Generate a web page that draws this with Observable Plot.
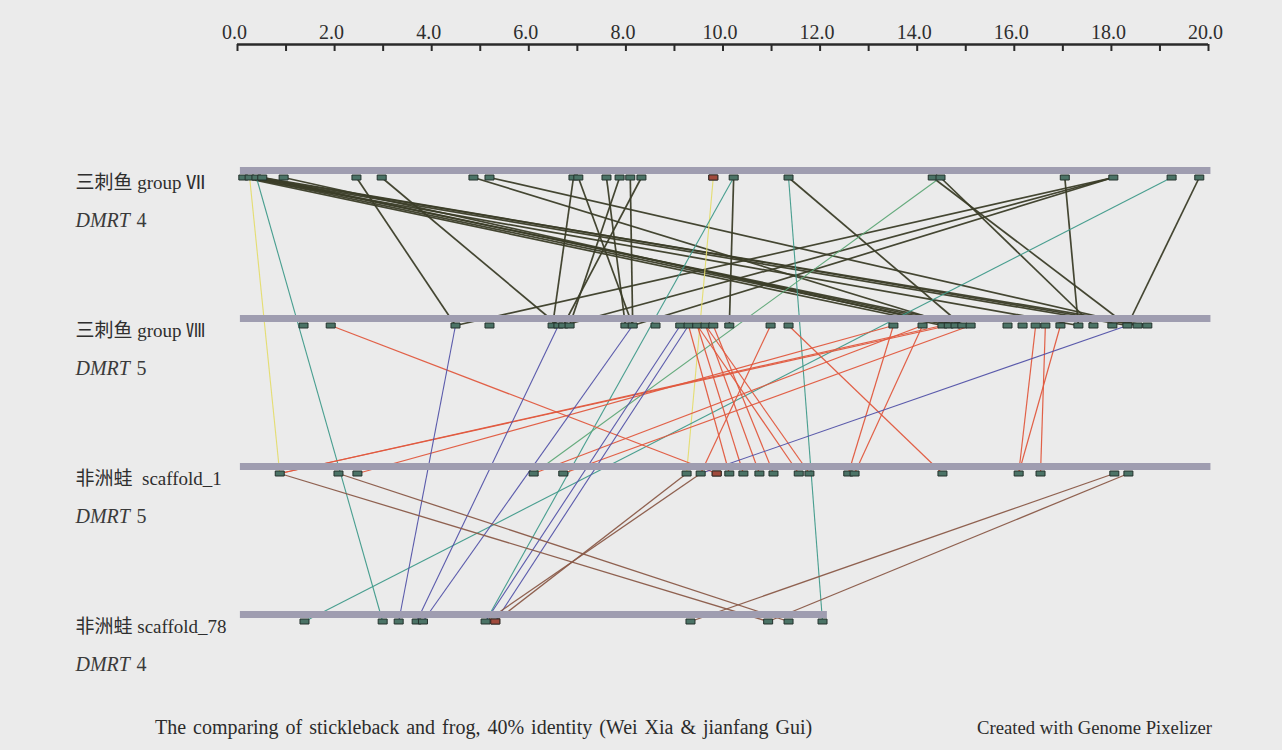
<!DOCTYPE html>
<html><head><meta charset="utf-8">
<script src="https://cdn.jsdelivr.net/npm/d3@7"></script>
<script src="https://cdn.jsdelivr.net/npm/@observablehq/plot@0.6"></script>
<style>
body{margin:0;background:#ebebeb;}
#wrap{position:relative;width:1282px;height:750px;background:#ebebeb;overflow:hidden;}
#main,#axis{position:absolute;left:0;top:0;}
.cap{position:absolute;top:717px;font-family:'Liberation Serif','Times New Roman',serif;font-size:18.7px;color:#2b2b2b;white-space:nowrap;}
</style></head><body>
<div id="wrap"><div id="main"></div><div id="axis"></div>
<div class="cap" style="left:155px;top:716px;font-size:20px;word-spacing:2px">The comparing of stickleback and frog, 40% identity (Wei Xia &amp; jianfang Gui)</div>
<div class="cap" style="left:977px">Created with Genome Pixelizer</div>
</div>
<script>
// ---- data ----
const rows = ["VII", "VIII", "s1", "s78"];
const rowNames = ["三刺鱼 group Ⅶ", "三刺鱼 group Ⅷ", "非洲蛙\u00a0\u00a0scaffold_1", "非洲蛙 scaffold_78"];
const rowGenes = ["4", "5", "5", "4"];
const rowLengths = [20.05, 20.05, 20.05, 12.15];
const axisTicks = d3.range(0, 21, 1);
const axisLabels = d3.range(0, 21, 2);

const markersVII = [0.12, 0.25, 0.39, 0.51, 0.95, 2.45, 2.97, 4.86, 5.19, 6.92, 7.02, 7.60, 7.87, 8.09, 8.32, 9.80, 10.22, 11.35, 14.32, 14.48, 17.04, 18.04, 19.24, 19.81];
const markersVIII = [1.36, 1.92, 4.49, 5.19, 6.49, 6.61, 6.71, 6.84, 7.99, 8.14, 8.61, 9.12, 9.29, 9.47, 9.64, 9.80, 10.13, 10.98, 11.35, 13.51, 14.11, 14.52, 14.65, 14.79, 14.93, 15.10, 15.86, 16.17, 16.44, 16.64, 16.95, 17.32, 17.63, 18.02, 18.33, 18.54, 18.74];
const markersS1 = [0.87, 2.08, 2.47, 6.10, 6.71, 9.25, 9.54, 9.87, 10.13, 10.42, 10.75, 11.04, 11.56, 11.78, 12.58, 12.71, 14.52, 16.09, 16.54, 18.06, 18.35];
const markersS78 = [1.38, 2.99, 3.32, 3.69, 3.82, 5.11, 5.31, 9.33, 10.93, 11.35, 12.05];
const redMarkers = [["VII", 9.80], ["s1", 9.87], ["s78", 5.31]];

// links: [start, end] per row pair and colour
const darkVII_VIII = [[0.12, 14.52], [0.25, 14.79], [0.39, 15.10], [0.51, 14.93], [0.25, 18.33], [0.12, 17.32], [0.51, 18.54], [0.39, 18.74], [0.95, 14.65], [2.45, 4.49], [2.97, 6.61], [4.86, 14.79], [5.19, 18.54], [6.92, 6.49], [7.02, 8.14], [7.60, 7.99], [7.87, 6.84], [8.09, 8.14], [8.32, 6.71], [10.22, 10.13], [11.35, 14.93], [14.32, 18.33], [14.48, 17.63], [17.04, 17.32], [18.04, 4.49], [18.04, 6.71], [18.04, 8.14], [19.81, 18.33]];
const yellowVII_S1 = [[0.25, 0.87], [9.80, 9.25]];
const tealVII_S78 = [[0.39, 2.99], [11.35, 12.05], [10.22, 5.11], [19.24, 1.38]];
const greenVII_S1 = [[14.48, 6.10]];
const redVIII_S1 = [[1.92, 9.87], [14.52, 0.87], [14.65, 0.87], [13.51, 2.47], [14.11, 6.10], [15.10, 6.71], [9.29, 10.13], [9.47, 10.42], [9.64, 10.75], [9.80, 11.04], [9.47, 11.56], [9.64, 11.78], [10.98, 9.54], [11.35, 14.52], [13.51, 12.58], [14.11, 12.71], [16.44, 16.09], [16.64, 16.54], [16.95, 16.09]];
const blueVIII_S78 = [[4.49, 3.32], [6.61, 3.69], [8.14, 3.82], [9.12, 5.11], [9.29, 5.31]];
const blueVIII_S1 = [[18.33, 9.54]];
const brownS1_S78 = [[0.87, 10.93], [2.08, 11.35], [18.06, 9.33], [18.35, 10.93], [9.25, 5.31], [9.54, 5.11]];

// ---- build tables ----
const chroms = rows.map((r, i) => ({row: r, name: rowNames[i], gene: rowGenes[i], length: rowLengths[i]}));
const markers = [
  ...markersVII.map(x => ({row: "VII", x})),
  ...markersVIII.map(x => ({row: "VIII", x})),
  ...markersS1.map(x => ({row: "s1", x})),
  ...markersS78.map(x => ({row: "s78", x}))
];
const groups = [
  [darkVII_VIII, "VII", "VIII", "#3b3d28", 1.7],
  [yellowVII_S1, "VII", "s1", "#e4dc6a", 1.1],
  [tealVII_S78, "VII", "s78", "#3f9a8a", 1.1],
  [greenVII_S1, "VII", "s1", "#5da676", 1.1],
  [redVIII_S1, "VIII", "s1", "#e0583e", 1.2],
  [blueVIII_S78, "VIII", "s78", "#5252a8", 1.1],
  [blueVIII_S1, "VIII", "s1", "#5252a8", 1.1],
  [brownS1_S78, "s1", "s78", "#8a5a48", 1.3]
];
const links = groups.flatMap(([pairs, from, to, color, w]) => pairs.map(([a, b]) => ({x1: a, x2: b, from, to, color, w})));

const serif = "'Liberation Serif', 'Times New Roman', 'Noto Sans CJK SC', serif";
const rectSymbol = {draw(ctx) { ctx.moveTo(-4.5, -2.5); ctx.lineTo(4.5, -2.5); ctx.lineTo(4.5, 2.5); ctx.lineTo(-4.5, 2.5); ctx.closePath(); }};
const xScale = {domain: [0, 20], range: [237, 1208]};

const main = Plot.plot({
  width: 1282, height: 700,
  marginLeft: 237, marginRight: 74, marginTop: 60, marginBottom: 40,
  x: {...xScale, axis: null},
  y: {type: "point", domain: rows, range: [169.5, 614], padding: 0, axis: null},
  style: {background: "transparent", fontFamily: serif},
  marks: [
    Plot.link(links, {x1: "x1", x2: "x2", y1: "from", y2: "to", stroke: "color", strokeWidth: "w", dy: 7, strokeOpacity: 0.95}),
    Plot.ruleY(chroms, {y: "row", x1: 0.06, x2: "length", stroke: "#9f9db0", strokeWidth: 7}),
    Plot.dot(markers, {x: "x", y: "row", dy: 7, symbol: rectSymbol, fill: "#4b7366", stroke: "#24322d", strokeWidth: 1}),
    Plot.dot(redMarkers, {x: d => d[1], y: d => d[0], dy: 7, symbol: rectSymbol, fill: "#a04a3c", stroke: "#3a2a26", strokeWidth: 1}),
    Plot.text(chroms, {y: "row", text: "name", frameAnchor: "left", textAnchor: "start", dx: -162, dy: 12, fontSize: 19, fill: "#2e2e2e"}),
    Plot.text(chroms, {y: "row", text: () => "DMRT", frameAnchor: "left", textAnchor: "start", dx: -162, dy: 50, fontSize: 20, fontStyle: "italic", fill: "#3a3a3a"}),
    Plot.text(chroms, {y: "row", text: "gene", frameAnchor: "left", textAnchor: "start", dx: -101, dy: 50, fontSize: 20, fill: "#3a3a3a"})
  ]
});
document.getElementById("main").appendChild(main);

const axis = Plot.plot({
  width: 1282, height: 60,
  marginLeft: 237, marginRight: 74, marginTop: 44, marginBottom: 16,
  x: {...xScale, axis: null},
  y: {domain: [0, 1], range: [44, 60], axis: null},
  style: {background: "transparent", fontFamily: serif},
  marks: [
    Plot.ruleY([0], {stroke: "#2a2a2a", strokeWidth: 2.4}),
    Plot.axisX({anchor: "bottom", ticks: axisTicks, tickSize: 7, tickFormat: () => "", stroke: "#2a2a2a", strokeWidth: 2}),
    Plot.axisX({anchor: "top", ticks: axisLabels, tickSize: 0, tickPadding: 6, tickFormat: d => d.toFixed(1), fontSize: 20, fill: "#2e2e2e", dx: -3})
  ]
});
document.getElementById("axis").appendChild(axis);
</script>
</body></html>
